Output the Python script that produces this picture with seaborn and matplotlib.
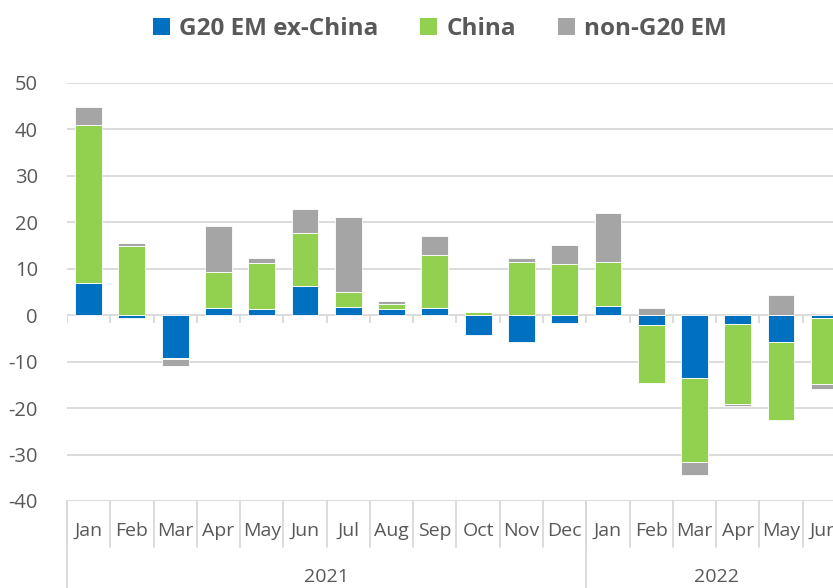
import numpy as np
import pandas as pd
import matplotlib
matplotlib.use('Agg')
import matplotlib.pyplot as plt
from matplotlib.patches import Patch
import seaborn as sns

sns.set_theme(style = 'white')
plt.rcParams['font.family'] = ['Open Sans', 'DejaVu Sans']

# data
months = ['Jan', 'Feb', 'Mar', 'Apr', 'May', 'Jun', 'Jul', 'Aug', 'Sep', 'Oct', 'Nov', 'Dec',
          'Jan', 'Feb', 'Mar', 'Apr', 'May', 'Jun']
years = ['2021', '2022']
year_counts = [12, 6]
g20_ex_china = [6.9, -0.6, -9.2, 1.5, 1.3, 6.3, 1.7, 1.4, 1.5, -4.2, -5.8, -1.6,
                1.9, -2.2, -13.5, -1.9, -5.8, -0.6]
china = [34.1, 14.8, -0.2, 7.8, 9.9, 11.3, 3.4, 1.0, 11.4, 0.7, 11.4, 11.1,
         9.5, -12.5, -18.1, -17.2, -16.8, -14.2]
non_g20 = [3.8, 0.8, -1.5, 10.0, 1.2, 5.2, 16.1, 0.6, 4.2, 0.0, 1.0, 4.1,
           10.7, 1.5, -2.7, -0.5, 4.3, -1.0]

series = [('G20 EM ex-China', g20_ex_china, '#0070C0'),
          ('China', china, '#92D050'),
          ('non-G20 EM', non_g20, '#A5A5A5')]

text_col = '#595959'
grid_col = '#D9D9D9'

fig = plt.figure(figsize = (8.33, 5.88), dpi = 100)
ax = fig.add_axes([67 / 833, 1 - 501 / 588, (833 - 67) / 833, 418 / 588])

n = len(months)
pos_base = np.zeros(n)
neg_base = np.zeros(n)
for name, vals, col in series:
    vals = np.array(vals)
    bottom = np.where(vals >= 0, pos_base, neg_base)
    df = pd.DataFrame({'idx': np.arange(n), 'val': vals})
    sns.barplot(data = df, x = 'idx', y = 'val', bottom = bottom, color = col,
                width = 0.62, saturation = 1, edgecolor = 'white', linewidth = 0.6,
                ax = ax, zorder = 3)
    pos_base = pos_base + np.where(vals >= 0, vals, 0)
    neg_base = neg_base + np.where(vals < 0, vals, 0)

ax.set_xlim(-0.5, 17.2)
ax.set_ylim(-40, 50)
ax.set_yticks(range(-40, 51, 10))
ax.set_yticklabels([str(v) for v in range(-40, 51, 10)], color = text_col, fontsize = 14.5)
ax.tick_params(axis = 'y', length = 0, pad = 21)
ax.set_xticks([])
ax.set_xlabel('')
ax.set_ylabel('')
for s in ax.spines.values():
    s.set_visible(False)

for v in range(-40, 51, 10):
    ax.axhline(v, color = grid_col, lw = 1.3, zorder = 1)

# small ticks on the zero line
ax.vlines(np.arange(n) + 0.5, -1.7, 0, color = grid_col, lw = 1.3, zorder = 1)
ax.vlines([-0.5], -1.7, 0, color = grid_col, lw = 1.3, zorder = 1)

# multi-level category axis
tr = ax.get_xaxis_transform()
for i, m in enumerate(months):
    ax.text(i, -0.072, m, transform = tr, ha = 'center', va = 'center',
            fontsize = 14, color = text_col)
for k in range(n + 1):
    ax.plot([k - 0.5, k - 0.5], [0, -0.11], transform = tr, color = grid_col,
            lw = 1.3, clip_on = False)
start = 0
for y, c in zip(years, year_counts):
    ax.plot([start - 0.5, start - 0.5], [0, -0.25], transform = tr, color = grid_col,
            lw = 1.3, clip_on = False)
    ax.text(start + (c - 1) / 2, -0.182, y, transform = tr, ha = 'center', va = 'center',
            fontsize = 14, color = text_col)
    start += c

handles = [Patch(facecolor = col, edgecolor = 'none', label = name) for name, vals, col in series]
leg = fig.legend(handles = handles, loc = 'center', bbox_to_anchor = (0.528, 0.95), ncol = 3,
                 frameon = False, handlelength = 0.7, handleheight = 0.7, handletextpad = 0.4,
                 columnspacing = 1.7, prop = {'weight': 'bold', 'size': 17.5})
for t in leg.get_texts():
    t.set_color(text_col)

fig.savefig('out.png', dpi = 100)
